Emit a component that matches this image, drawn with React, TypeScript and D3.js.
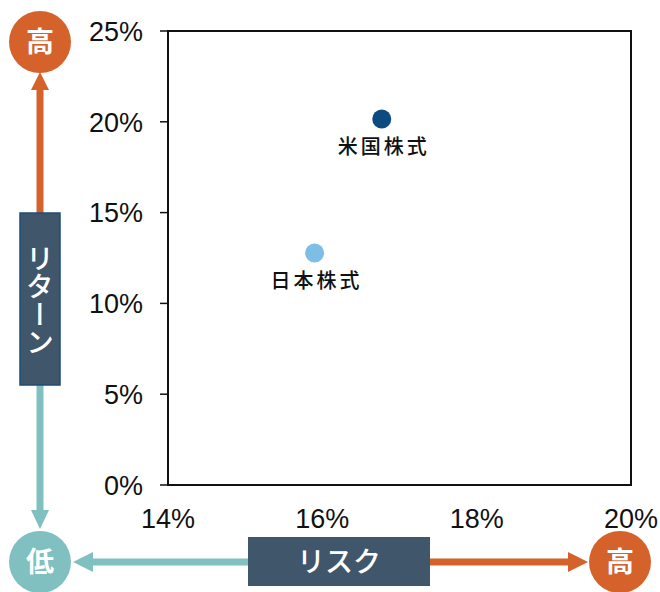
import React from "react";
import * as d3 from "d3";

const names = ["米国株式", "日本株式"];
const risk = [16.77, 15.9];
const ret = [20.15, 12.78];
const dotColors = ["#0c4a80", "#7dbde6"];
const yTicks = [0, 5, 10, 15, 20, 25];
const xTicks = [14, 16, 18, 20];

const ORANGE = "#d4622a";
const TEAL = "#80c0c0";
const BOX = "#40566a";

export default function App() {
  const W = 660, H = 592;
  const x = d3.scaleLinear().domain([14, 20]).range([168, 631]);
  const y = d3.scaleLinear().domain([0, 25]).range([485, 31]);
  const tickFont = "'Liberation Sans', Arial, sans-serif";
  const jp = "'Noto Sans CJK JP', sans-serif";
  return (
    <svg width={W} height={H} style={{ position: "absolute", left: 0, top: 0 }}>
      <rect x={0} y={0} width={W} height={H} fill="#fff" />
      {/* frame */}
      <rect x={x(14)} y={y(25)} width={x(20) - x(14)} height={y(0) - y(25)} fill="none" stroke="#111" strokeWidth={2} />
      {yTicks.map((t) => (
        <g key={"y" + t}>
          <line x1={x(14) - 8} x2={x(14)} y1={y(t)} y2={y(t)} stroke="#111" strokeWidth={1.5} />
          <text x={143} y={y(t)} dy="0.36em" textAnchor="end" fontFamily={tickFont} fontSize={27} fill="#111">{t}%</text>
        </g>
      ))}
      {xTicks.map((t) => (
        <text key={"x" + t} x={x(t)} y={528} textAnchor="middle" fontFamily={tickFont} fontSize={27} fill="#111">{t}%</text>
      ))}
      {/* points */}
      {names.map((n, i) => (
        <g key={n}>
          <circle cx={x(risk[i])} cy={y(ret[i])} r={9.5} fill={dotColors[i]} />
          <text x={x(risk[i]) + 2} y={y(ret[i]) + 28} dy="0.36em" textAnchor="middle" fontFamily={jp} fontWeight={500} fontSize={20} letterSpacing={3} fill="#111">{n}</text>
        </g>
      ))}
      {/* left vertical decoration */}
      <line x1={40} x2={40} y1={213} y2={88} stroke={ORANGE} strokeWidth={7} />
      <polygon points="40,72 31,90 49,90" fill={ORANGE} />
      <circle cx={40} cy={42} r={31} fill={ORANGE} />
      <text x={40} y={42} dy="0.36em" textAnchor="middle" fontFamily={jp} fontWeight={700} fontSize={28} fill="#fff">高</text>
      <line x1={40} x2={40} y1={385} y2={512} stroke={TEAL} strokeWidth={7} />
      <polygon points="40,529 31,510 49,510" fill={TEAL} />
      <circle cx={40} cy={562} r={31} fill={TEAL} />
      <text x={40} y={562} dy="0.36em" textAnchor="middle" fontFamily={jp} fontWeight={700} fontSize={28} fill="#fff">低</text>
      <rect x={20} y={213} width={40} height={172} fill={BOX} stroke="#1f4e79" strokeWidth={1.5} />
      <text x={40} y={300} textAnchor="middle" fontFamily={jp} fontWeight={500} fontSize={28} fill="#fff" style={{ writingMode: "vertical-rl" }}>リターン</text>
      {/* bottom horizontal decoration */}
      <line x1={248} x2={91} y1={562} y2={562} stroke={TEAL} strokeWidth={7} />
      <polygon points="73,562 93,552 93,572" fill={TEAL} />
      <line x1={430} x2={570} y1={562} y2={562} stroke={ORANGE} strokeWidth={7} />
      <polygon points="588,562 568,552 568,572" fill={ORANGE} />
      <circle cx={620} cy={562} r={31} fill={ORANGE} />
      <text x={620} y={562} dy="0.36em" textAnchor="middle" fontFamily={jp} fontWeight={700} fontSize={28} fill="#fff">高</text>
      <rect x={248} y={537} width={182} height={49} fill={BOX} />
      <text x={339} y={562} dy="0.36em" textAnchor="middle" fontFamily={jp} fontWeight={500} fontSize={28} fill="#fff">リスク</text>
    </svg>
  );
}
